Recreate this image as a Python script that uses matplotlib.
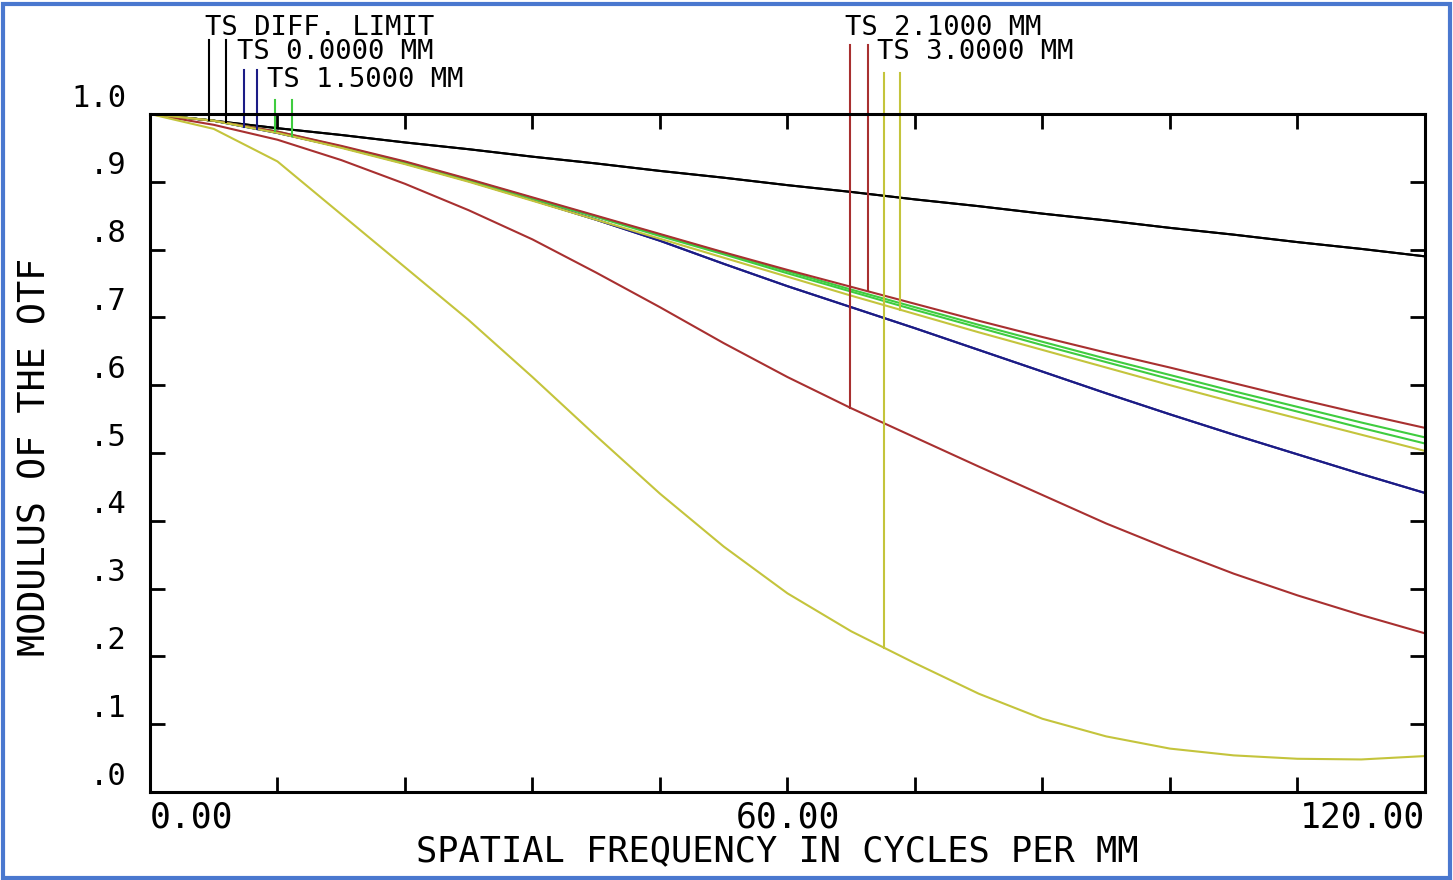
import numpy as np
import matplotlib
matplotlib.use("Agg")
import matplotlib.pyplot as plt
from matplotlib.patches import Rectangle

# spatial frequency samples (cycles per mm)
freq = [0, 6, 12, 18, 24, 30, 36, 42, 48, 54, 60, 66, 72, 78, 84, 90, 96, 102, 108, 114, 120]

# MTF values
diff_limit = [1.0, 0.990, 0.979, 0.969, 0.958, 0.948, 0.937, 0.927, 0.916, 0.906, 0.895,
              0.885, 0.874, 0.864, 0.853, 0.843, 0.832, 0.822, 0.811, 0.801, 0.790]
field0 = [1.0, 0.990, 0.972, 0.951, 0.927, 0.901, 0.873, 0.844, 0.813, 0.779, 0.746,
          0.715, 0.684, 0.652, 0.620, 0.588, 0.557, 0.527, 0.498, 0.469, 0.441]
field15_t = [1.0, 0.990, 0.974, 0.952, 0.929, 0.903, 0.876, 0.849, 0.822, 0.795, 0.768,
             0.741, 0.715, 0.689, 0.664, 0.639, 0.615, 0.591, 0.568, 0.545, 0.523]
field15_s = [1.0, 0.990, 0.973, 0.951, 0.928, 0.902, 0.875, 0.848, 0.820, 0.793, 0.765,
             0.738, 0.711, 0.685, 0.659, 0.634, 0.609, 0.585, 0.561, 0.537, 0.514]
field21_t = [1.0, 0.984, 0.962, 0.932, 0.897, 0.858, 0.815, 0.766, 0.715, 0.662, 0.612,
             0.566, 0.523, 0.480, 0.438, 0.396, 0.358, 0.322, 0.290, 0.261, 0.234]
field21_s = [1.0, 0.990, 0.974, 0.953, 0.930, 0.904, 0.877, 0.850, 0.823, 0.796, 0.770,
             0.745, 0.720, 0.695, 0.671, 0.648, 0.626, 0.603, 0.580, 0.558, 0.537]
field30_t = [1.0, 0.978, 0.930, 0.852, 0.774, 0.696, 0.612, 0.525, 0.440, 0.362, 0.293,
             0.237, 0.190, 0.145, 0.108, 0.082, 0.064, 0.054, 0.049, 0.048, 0.053]
field30_s = [1.0, 0.990, 0.972, 0.950, 0.926, 0.900, 0.872, 0.844, 0.816, 0.788, 0.760,
             0.732, 0.705, 0.678, 0.652, 0.626, 0.600, 0.575, 0.551, 0.527, 0.503]

labels = ["TS DIFF. LIMIT", "TS 0.0000 MM", "TS 1.5000 MM", "TS 2.1000 MM", "TS 3.0000 MM"]
colors = ["#000000", "#1c1c86", "#3fcc3f", "#a83030", "#c4c43c"]
# x position (cycles/mm) of the two marker drops for each field
marker_x = [(5.6, 7.2), (8.85, 10.1), (11.8, 13.4), (65.9, 67.6), (69.1, 70.6)]

curves = [(diff_limit, diff_limit), (field0, field0), (field15_t, field15_s),
          (field21_t, field21_s), (field30_t, field30_s)]

# label placement (freq, height) and where the drop lines start
label_pos = [(5.2, 1.127), (8.2, 1.091), (11.0, 1.050), (65.4, 1.127), (68.4, 1.091)]
drop_top = [1.109, 1.065, 1.021, 1.102, 1.060]

mono = "DejaVu Sans Mono"

fig = plt.figure(figsize=(14.53, 8.80), dpi=100)
ax = fig.add_axes([0.1032, 0.1, 0.8775, 0.7705])

for (t_vals, s_vals), col in zip(curves, colors):
    ax.plot(freq, t_vals, color=col, lw=1.5)
    ax.plot(freq, s_vals, color=col, lw=1.5)

for (t_vals, s_vals), col, mx, top, lab, lp in zip(curves, colors, marker_x, drop_top, labels, label_pos):
    for xv, vals in zip(mx, (t_vals, s_vals)):
        yv = np.interp(xv, freq, vals)
        ax.plot([xv, xv], [yv, top], color=col, lw=1.5, clip_on=False)
    ax.text(lp[0], lp[1], lab, fontsize=19.5, family=mono, color="black",
            ha="left", va="center", clip_on=False)

ax.set_xlim(0, 120)
ax.set_ylim(0, 1.0)

ax.set_xticks(np.arange(0, 121, 12))
ax.set_yticks(np.arange(0, 1.01, 0.1))
ax.set_xticklabels([])
ax.set_yticklabels([])
ax.tick_params(direction="in", length=11, width=2, top=True, right=True)
for sp in ax.spines.values():
    sp.set_linewidth(2.2)

# y tick labels (sit just above each tick like the Zemax plot)
ytl = ["1.0", ".9", ".8", ".7", ".6", ".5", ".4", ".3", ".2", ".1", ".0"]
for i, t in enumerate(ytl):
    ax.text(-2.2, 1.0 - i * 0.1 + 0.002, t, fontsize=22, family=mono,
            ha="right", va="bottom", clip_on=False)

xform = ax.get_xaxis_transform()
ax.text(0, -0.013, "0.00", fontsize=25, family=mono, ha="left", va="top", transform=xform)
ax.text(60, -0.013, "60.00", fontsize=25, family=mono, ha="center", va="top", transform=xform)
ax.text(120, -0.013, "120.00", fontsize=25, family=mono, ha="right", va="top", transform=xform)

fig.text(0.535, 0.033, "SPATIAL FREQUENCY IN CYCLES PER MM", fontsize=25.5, family=mono,
         ha="center", va="center")
fig.text(0.024, 0.481, "MODULUS OF THE OTF", fontsize=26.5, family=mono,
         ha="center", va="center", rotation=90)

# blue frame around the picture
fig.patches.append(Rectangle((0.002, 0.002), 0.996, 0.993, transform=fig.transFigure,
                             fill=False, edgecolor="#4a78cf", lw=3))

fig.savefig("out.png", dpi=100)
